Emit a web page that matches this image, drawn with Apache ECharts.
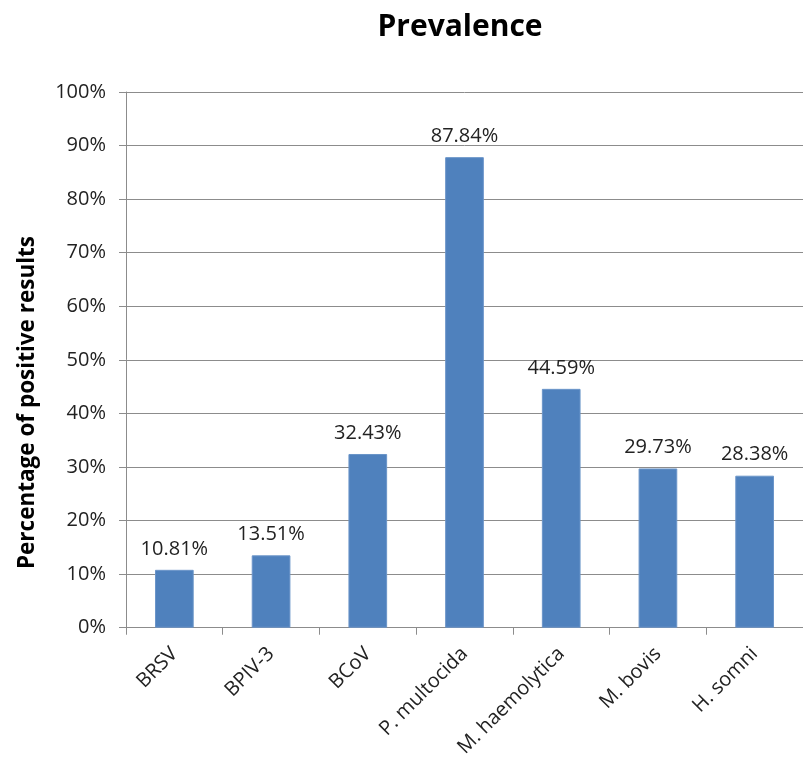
<!DOCTYPE html>
<html>
<head>
<meta charset="utf-8">
<script src="https://cdn.jsdelivr.net/npm/echarts@6/dist/echarts.min.js"></script>
<style>
  html, body { margin: 0; padding: 0; background: #fff; }
  #chart { width: 803px; height: 760px; }
</style>
</head>
<body>
<div id="chart"></div>
<script>
// Pathogens tested and share of positive results (%)
const categories = ['BRSV', 'BPIV-3', 'BCoV', 'P. multocida', 'M. haemolytica', 'M. bovis', 'H. somni'];
const prevalence = [10.81, 13.51, 32.43, 87.84, 44.59, 29.73, 28.38];
const yTicks = [0, 10, 20, 30, 40, 50, 60, 70, 80, 90, 100];

const font = '"Open Sans", "Liberation Sans", sans-serif';
const chart = echarts.init(document.getElementById('chart'));

chart.setOption({
  animation: false,
  title: {
    text: 'Prevalence',
    left: 455,
    top: 7,
    textAlign: 'center',
    textStyle: { fontFamily: font, fontSize: 30, fontWeight: 'bold', color: '#000' }
  },
  graphic: [{
    type: 'text',
    left: 16,
    top: 236,
    rotation: Math.PI / 2,
    style: {
      text: 'Percentage of positive results',
      font: 'bold 22.5px ' + font,
      fill: '#000'
    }
  }],
  grid: { left: 126, right: -8, top: 92, bottom: 132 },
  xAxis: {
    type: 'category',
    data: categories,
    axisLine: { lineStyle: { color: '#8c8c8c', width: 1 } },
    axisTick: { show: true, alignWithLabel: false, length: 7, lineStyle: { color: '#8c8c8c' } },
    axisLabel: {
      rotate: 45,
      interval: 0,
      margin: 23,
      fontFamily: font,
      fontSize: 20,
      color: '#222'
    }
  },
  yAxis: {
    type: 'value',
    min: yTicks[0],
    max: yTicks[yTicks.length - 1],
    interval: 10,
    axisLine: { show: true, lineStyle: { color: '#8c8c8c', width: 1 } },
    axisTick: { show: true, inside: false, length: 7, lineStyle: { color: '#8c8c8c' } },
    splitLine: { lineStyle: { color: '#8c8c8c', width: 1 } },
    axisLabel: {
      margin: 20,
      fontFamily: font,
      fontSize: 20,
      color: '#222',
      formatter: v => v + '%'
    }
  },
  series: [{
    type: 'bar',
    data: prevalence,
    barWidth: '40%',
    itemStyle: { color: '#4f81bd', borderColor: '#6b95c9', borderWidth: 1 },
    label: {
      show: true,
      position: 'top',
      distance: 11,
      fontFamily: font,
      fontSize: 20,
      color: '#222',
      formatter: p => p.value.toFixed(2) + '%'
    }
  }]
});
</script>
</body>
</html>
